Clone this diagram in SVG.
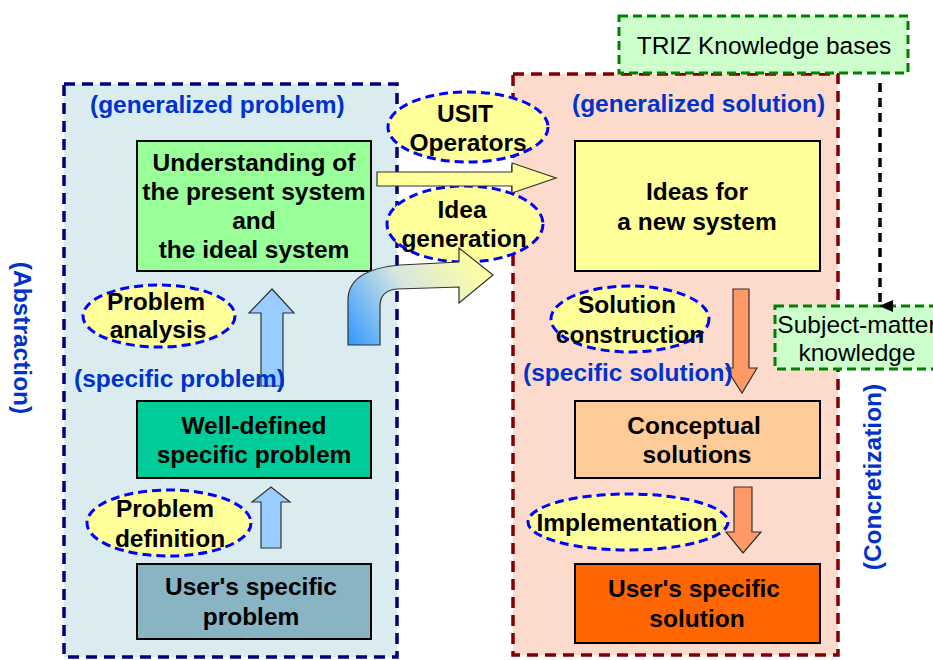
<svg xmlns="http://www.w3.org/2000/svg" width="933" height="660" viewBox="0 0 933 660">
<style>
.bt{font-family:"Liberation Sans",Arial,sans-serif;font-weight:bold;font-size:24.5px;fill:#000;text-anchor:middle}
.bl{font-family:"Liberation Sans",Arial,sans-serif;font-weight:bold;font-size:24.5px;fill:#0033cc}
.nt{font-family:"Liberation Sans",Arial,sans-serif;font-size:24.5px;fill:#000;text-anchor:middle}
.box{stroke:#000;stroke-width:2}
.ell{fill:#ffff99;stroke:#0000ff;stroke-width:3;stroke-dasharray:9 5}
.kb{fill:#ccffcc;stroke:#008000;stroke-width:3;stroke-dasharray:9 5}
.arr{stroke:#333;stroke-width:1.2}
</style>
<defs>
<linearGradient id="curveGrad" gradientUnits="userSpaceOnUse" x1="350" y1="345" x2="480" y2="262">
<stop offset="0" stop-color="#3399ff"/>
<stop offset="0.5" stop-color="#d6e6e0"/>
<stop offset="1" stop-color="#ffffa0"/>
</linearGradient>
<marker id="blk" markerWidth="12" markerHeight="14" refX="6" refY="13" orient="auto" markerUnits="userSpaceOnUse">
<path d="M0,0 L12,0 L6,14 Z" fill="#000"/>
</marker>
</defs>

<g id="panel-problem">
<rect x="64" y="84" width="333" height="573" fill="#daecef" stroke="#000080" stroke-width="3.5" stroke-dasharray="11 7"/>
</g>
<g id="panel-solution">
<rect x="513" y="74" width="325" height="581" fill="#fddbcc" stroke="#800000" stroke-width="3.5" stroke-dasharray="11 7"/>
</g>

<g id="triz">
<rect class="kb" x="619" y="16" width="289" height="57"/>
<text class="nt" x="764" y="54">TRIZ Knowledge bases</text>
</g>

<g id="subject-matter">
<rect class="kb" x="775" y="306" width="170" height="63"/>
<text class="nt" x="857" y="333">Subject-matter</text>
<text class="nt" x="857" y="361">knowledge</text>
</g>

<g id="understanding">
<rect class="box" x="137" y="141" width="234" height="130" fill="#99ff99"/>
<text class="bt" x="254" y="171">Understanding of</text>
<text class="bt" x="254" y="200">the present system</text>
<text class="bt" x="254" y="229">and</text>
<text class="bt" x="254" y="258">the ideal system</text>
</g>
<g id="well-defined">
<rect class="box" x="137" y="401" width="234" height="77" fill="#00cc99"/>
<text class="bt" x="254" y="434">Well-defined</text>
<text class="bt" x="254" y="463">specific problem</text>
</g>
<g id="user-problem">
<rect class="box" x="137" y="564" width="234" height="75" fill="#88b4c4"/>
<text class="bt" x="251" y="595">User's specific</text>
<text class="bt" x="251" y="625">problem</text>
</g>
<g id="ideas">
<rect class="box" x="575" y="141" width="245" height="130" fill="#ffff99"/>
<text class="bt" x="697" y="200">Ideas for</text>
<text class="bt" x="697" y="230">a new system</text>
</g>
<g id="conceptual">
<rect class="box" x="575" y="401" width="245" height="77" fill="#ffcc99"/>
<text class="bt" x="694" y="434">Conceptual</text>
<text class="bt" x="697" y="463">solutions</text>
</g>
<g id="user-solution">
<rect class="box" x="575" y="564" width="245" height="79" fill="#ff6600"/>
<text class="bt" x="694" y="597">User's specific</text>
<text class="bt" x="697" y="627">solution</text>
</g>

<g id="problem-analysis">
<ellipse class="ell" cx="159" cy="316" rx="76" ry="31"/>
<text class="bt" x="156" y="310">Problem</text>
<text class="bt" x="158" y="338">analysis</text>
</g>
<g id="problem-definition">
<ellipse class="ell" cx="169" cy="523" rx="82" ry="33"/>
<text class="bt" x="165" y="517">Problem</text>
<text class="bt" x="170" y="547">definition</text>
</g>
<g id="usit-operators">
<ellipse class="ell" cx="468" cy="127" rx="80" ry="35"/>
<text class="bt" x="465" y="122">USIT</text>
<text class="bt" x="468" y="151">Operators</text>
</g>
<g id="idea-generation">
<ellipse class="ell" cx="465" cy="224" rx="78" ry="38"/>
<text class="bt" x="462" y="218">Idea</text>
<text class="bt" x="464" y="247">generation</text>
</g>
<g id="solution-construction">
<ellipse class="ell" cx="630" cy="319" rx="79" ry="33"/>
<text class="bt" x="627" y="313">Solution</text>
<text class="bt" x="630" y="343">construction</text>
</g>
<g id="implementation">
<ellipse class="ell" cx="628" cy="522" rx="100" ry="28"/>
<text class="bt" x="627" y="531">Implementation</text>
</g>

<g id="connectors">
<line x1="880" y1="83" x2="880" y2="306" stroke="#000" stroke-width="3.5" stroke-dasharray="9 6" marker-end="url(#blk)"/>
<path class="arr" d="M261,386 V313 H249 L272,289 L294,313 H283 V386 Z" fill="#99ccff"/>
<path class="arr" d="M261,548 V502 H252 L271,487 L290,502 H281 V548 Z" fill="#99ccff"/>
<path class="arr" d="M377,172 H512 V163 L556,178 L512,193 V186 H377 Z" fill="#ffff99"/>
<path class="arr" d="M348,345 V300 C348,280 366,268 400,265 L459,262 V248 L493,275 L459,303 V287 L397,289 C386,290 380,296 380,306 V345 Z" fill="url(#curveGrad)"/>
<path class="arr" d="M733,289 V368 H726 L742,393 L757,368 H749 V289 Z" fill="#ff9966"/>
<path class="arr" d="M734,487 V532 H726 L743,553 L761,532 H752 V487 Z" fill="#ff9966"/>
</g>

<g id="labels">
<text class="bl" x="90" y="113">(generalized problem)</text>
<text class="bl" x="74" y="387">(specific problem)</text>
<text class="bl" x="572" y="112">(generalized solution)</text>
<text class="bl" x="523" y="381">(specific solution)</text>
<text class="bl" text-anchor="middle" x="0" y="8" transform="translate(22,338) rotate(90)">(Abstraction)</text>
<text class="bl" text-anchor="middle" x="0" y="8" transform="translate(873,477) rotate(-90)">(Concretization)</text>
</g>
</svg>
